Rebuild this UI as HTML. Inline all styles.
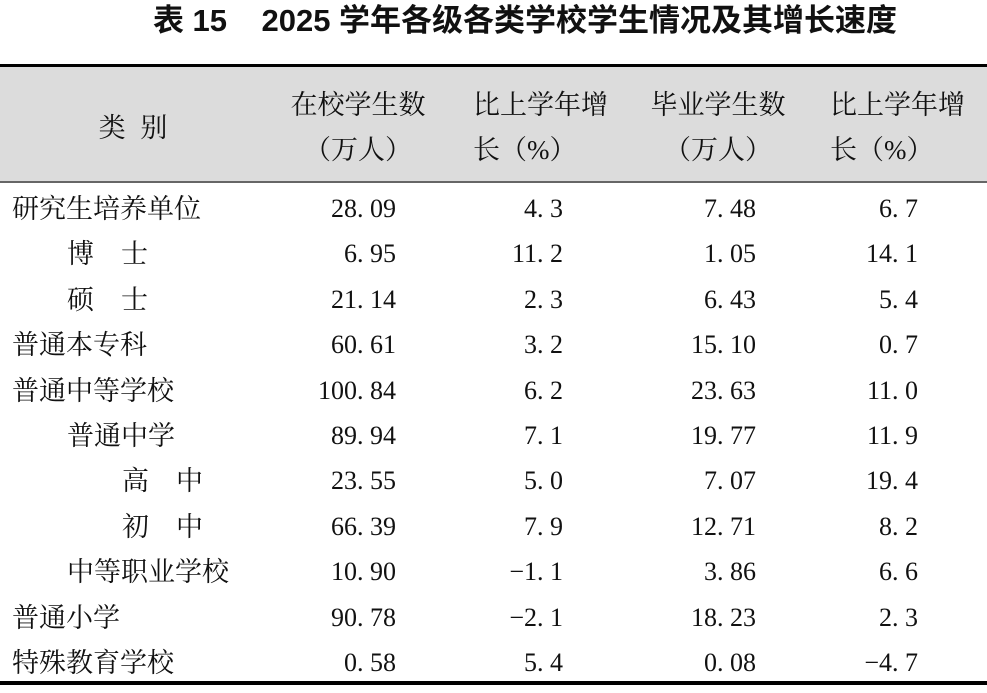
<!DOCTYPE html>
<html><head><meta charset="utf-8"><style>
body{margin:0;width:987px;height:693px;background:#fff;position:relative;overflow:hidden;font-family:"Liberation Serif","Noto Serif CJK SC",serif;color:#111}
.t{position:absolute;white-space:nowrap;line-height:1}
.title{left:0;width:1050px;text-align:center;top:5px;font-family:"Liberation Sans","Noto Sans CJK SC",sans-serif;font-weight:bold;font-size:31px;}
.r{font-size:27px;}
.n{font-size:26px;text-align:right;width:140px}
.h{font-size:27px;text-align:center;width:200px}
</style></head><body>
<div class="t title">表 15&nbsp;&nbsp;&nbsp; 2025 学年各级各类学校学生情况及其增长速度</div>
<div style="position:absolute;left:0;top:64px;width:987px;height:3px;background:#000"></div>
<div style="position:absolute;left:0;top:67px;width:987px;height:114px;background:#dcdcdc"></div>
<div style="position:absolute;left:0;top:181px;width:987px;height:2px;background:#666"></div>
<div style="position:absolute;left:0;top:681px;width:987px;height:4px;background:#000"></div>
<div class="t h" style="left:35px;top:115px;letter-spacing:4px">类 别</div>
<div class="t h" style="left:258px;top:92px">在校学生数</div>
<div class="t h" style="left:258px;top:137px">（万人）</div>
<div class="t r" style="left:473px;top:92px">比上学年增</div>
<div class="t r" style="left:473px;top:137px">长（%）</div>
<div class="t h" style="left:618px;top:92px">毕业学生数</div>
<div class="t h" style="left:618px;top:137px">（万人）</div>
<div class="t r" style="left:830px;top:92px">比上学年增</div>
<div class="t r" style="left:830px;top:137px">长（%）</div>
<div id="rows"></div>
<script>
var d=[["研究生培养单位",12,"28.09","4.3","7.48","6.7"],
["博　士",67,"6.95","11.2","1.05","14.1"],
["硕　士",67,"21.14","2.3","6.43","5.4"],
["普通本专科",12,"60.61","3.2","15.10","0.7"],
["普通中等学校",12,"100.84","6.2","23.63","11.0"],
["普通中学",67,"89.94","7.1","19.77","11.9"],
["高　中",122,"23.55","5.0","7.07","19.4"],
["初　中",122,"66.39","7.9","12.71","8.2"],
["中等职业学校",67,"10.90","-1.1","3.86","6.6"],
["普通小学",12,"90.78","-2.1","18.23","2.3"],
["特殊教育学校",12,"0.58","5.4","0.08","-4.7"]];
var R=[396,563,756,918],h="";
d.forEach(function(r,i){var y=196+i*45.4;
h+='<div class="t r" style="left:'+r[1]+'px;top:'+y+'px">'+r[0]+'</div>';
for(var j=0;j<4;j++)h+='<div class="t n" style="left:'+(R[j]-140)+'px;top:'+y+'px">'+r[2+j].replace(".",". ").replace("-","−")+'</div>';});
document.getElementById("rows").innerHTML=h;
</script>
</body></html>
